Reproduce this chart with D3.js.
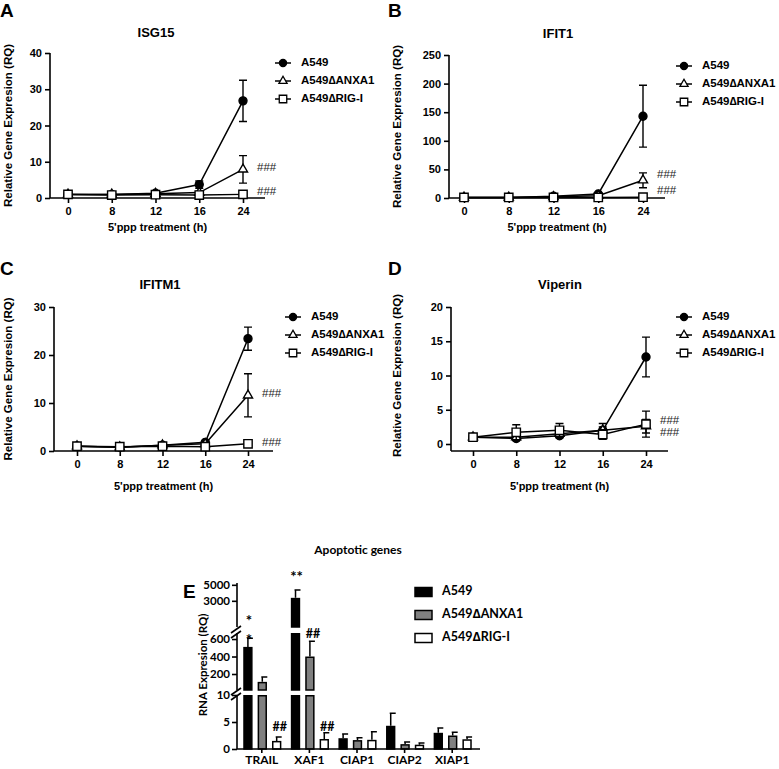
<!DOCTYPE html>
<head>
	<meta charset="utf-8">
	<script type="text/javascript" src="https://cdn.jsdelivr.net/npm/d3@7/dist/d3.min.js"></script>
	<style>
		body { margin: 0; background: #fff; }
	</style>
</head>
<body>
	<script type="text/javascript">

	// ---- data ----
	var times = ["0", "8", "12", "16", "24"];
	var cellLines = ["A549", "A549\u2206ANXA1", "A549\u2206RIG-I"];

	var isg15Mean = [[1, 1, 1.3, 3.7, 26.8], [1, 1, 1.2, 1.5, 7.9], [1, 0.8, 0.9, 0.8, 1.0]];
	var isg15Err = [[0.2, 0.2, 0.3, 1.0, 5.7], [0.2, 0.2, 0.2, 0.3, 3.8], [0.1, 0.1, 0.1, 0.1, 0.1]];
	var isg15Hash = [8.3, 1.6];

	var ifit1Mean = [[1, 1, 3, 7, 143], [1, 1, 2, 4, 31], [1, 1, 1, 1, 1.5]];
	var ifit1Err = [[0.3, 0.3, 1, 2, 54], [0.3, 0.3, 0.5, 1, 13], [0.2, 0.2, 0.2, 0.2, 0.3]];
	var ifit1Hash = [40, 12];

	var ifitm1Mean = [[1, 0.8, 1.2, 1.8, 23.4], [1, 0.8, 1.2, 1.5, 11.6], [1, 0.9, 1.0, 0.9, 1.5]];
	var ifitm1Err = [[0.1, 0.1, 0.2, 0.3, 2.4], [0.1, 0.1, 0.2, 0.2, 4.5], [0.1, 0.1, 0.1, 0.1, 0.2]];
	var ifitm1Hash = [11.9, 1.7];

	var viperinMean = [[1, 0.8, 1.2, 2.0, 12.7], [1, 1.0, 1.5, 2.0, 2.6], [1, 1.7, 2.0, 1.4, 2.9]];
	var viperinErr = [[0.1, 0.3, 0.3, 1.0, 2.9], [0.1, 0.3, 0.4, 0.5, 1.0], [0.1, 1.1, 1.0, 0.7, 1.9]];
	var viperinHash = [3.4, 1.6];

	var genes = ["TRAIL", "XAF1", "CIAP1", "CIAP2", "XIAP1"];
	var apoMean = [[510, 3300, 2.0, 4.3, 3.0], [110, 400, 1.65, 0.9, 2.5], [1.5, 1.85, 1.7, 0.8, 1.8]];
	var apoErr = [[100, 950, 0.8, 2.3, 0.9], [55, 175, 0.45, 0.4, 0.6], [0.7, 1.15, 1.5, 0.3, 0.4]];
	var apoTicksTop = [3000, 5000];
	var apoTicksMid = [200, 400, 600];
	var apoTicksLow = [0, 5, 10];

	var w = 779, h = 769;
	var font = "'Liberation Sans', Arial, sans-serif";
	var fontE = "Lato, 'Open Sans', sans-serif";

	var svg = d3.select("body").append("svg")
		.attr("width", w)
		.attr("height", h)
		.style("background", "#fff");

	var symbols = [d3.symbolCircle, d3.symbolTriangle, d3.symbolSquare];
	var symSize = [50, 36, 70];
	var symFill = ["#000", "#fff", "#fff"];

	function linePanel(c, means, errs, hashes) {
		var g = svg.append("g");

		var x = d3.scalePoint().domain(times).range([c.x0, c.x1]);
		var y = d3.scaleLinear().domain([0, c.yMax]).range([c.y0, c.yTop]);

		// panel letter + title
		g.append("text").text(c.letter)
			.attr("x", c.lx).attr("y", c.ly)
			.attr("font-family", font).attr("font-weight", "bold").attr("font-size", "19px");
		g.append("text").text(c.title)
			.attr("x", c.tx).attr("y", c.ty).attr("text-anchor", "middle")
			.attr("font-family", font).attr("font-weight", "bold").attr("font-size", "13px");

		// axes
		var yAxis = d3.axisLeft(y).tickValues(d3.range(0, c.yMax + 0.01, c.yStep)).tickSize(5).tickPadding(3);
		var ya = g.append("g").attr("transform", "translate(" + c.axisX + ",0)").call(yAxis);
		ya.select(".domain").attr("d", "M0," + c.xAxisY + "V" + c.yTop);
		var xAxis = d3.axisBottom(x).tickSize(5).tickPadding(4);
		var xa = g.append("g").attr("transform", "translate(0," + c.xAxisY + ")").call(xAxis);
		xa.select(".domain").attr("d", "M" + c.axisX + ",0H" + c.xEnd);
		[ya, xa].forEach(function(a) {
			a.selectAll("path, line").attr("stroke", "#000").attr("stroke-width", 1.6);
			a.selectAll("text").attr("font-family", font).attr("font-weight", "bold")
				.attr("font-size", "11px").attr("fill", "#000");
		});

		g.append("text").text("Relative Gene Expresion (RQ)")
			.attr("transform", "translate(" + c.ylabX + "," + ((c.y0 + c.yTop) / 2) + ") rotate(-90)")
			.attr("text-anchor", "middle").attr("dominant-baseline", "middle")
			.attr("font-family", font).attr("font-weight", "bold").attr("font-size", "11.5px");
		g.append("text").text("5'ppp treatment (h)")
			.attr("x", (c.axisX + c.xEnd) / 2).attr("y", c.xlabY).attr("text-anchor", "middle")
			.attr("font-family", font).attr("font-weight", "bold").attr("font-size", "11px");

		var line = d3.line().x(function(d, i) { return x(times[i]); }).y(function(d) { return y(d); });

		means.forEach(function(m, s) {
			var sg = g.append("g");
			// error bars
			m.forEach(function(v, i) {
				var e = errs[s][i];
				var cx = x(times[i]);
				sg.append("path")
					.attr("d", "M" + cx + "," + y(v - e) + "V" + y(v + e) +
						"M" + (cx - 4) + "," + y(v + e) + "H" + (cx + 4) +
						"M" + (cx - 4) + "," + y(v - e) + "H" + (cx + 4))
					.attr("stroke", "#000").attr("stroke-width", 1.4).attr("fill", "none");
			});
			sg.append("path").datum(m).attr("d", line)
				.attr("fill", "none").attr("stroke", "#000").attr("stroke-width", 1.5);
			sg.selectAll("path.pt").data(m).enter().append("path")
				.attr("class", "pt")
				.attr("d", d3.symbol().type(symbols[s]).size(symSize[s]))
				.attr("transform", function(d, i) { return "translate(" + x(times[i]) + "," + y(d) + ")"; })
				.attr("fill", symFill[s]).attr("stroke", "#000").attr("stroke-width", 1.4);
		});

		// significance marks
		g.selectAll("text.hash").data(hashes).enter().append("text")
			.attr("class", "hash")
			.text("###")
			.attr("x", x("24") + 14).attr("y", function(d) { return y(d); })
			.attr("dominant-baseline", "middle")
			.attr("font-family", font).attr("font-size", "11.5px").attr("fill", "#222");

		// legend
		cellLines.forEach(function(name, s) {
			var ly = c.legY + s * 18;
			g.append("line").attr("x1", c.legX - 8).attr("x2", c.legX + 8)
				.attr("y1", ly).attr("y2", ly).attr("stroke", "#000").attr("stroke-width", 1.5);
			g.append("path")
				.attr("d", d3.symbol().type(symbols[s]).size(symSize[s] * 0.8))
				.attr("transform", "translate(" + c.legX + "," + ly + ")")
				.attr("fill", symFill[s]).attr("stroke", "#000").attr("stroke-width", 1.3);
			g.append("text").text(name)
				.attr("x", c.legX + 18).attr("y", ly).attr("dominant-baseline", "middle")
				.attr("font-family", font).attr("font-weight", "bold").attr("font-size", "11.5px");
		});
	}

	linePanel({letter: "A", lx: 0, ly: 17, title: "ISG15", tx: 156, ty: 37,
		axisX: 50, x0: 68, x1: 243, xEnd: 265, y0: 198, yTop: 53, xAxisY: 198, yMax: 40, yStep: 10,
		ylabX: 9, xlabY: 231, legX: 283, legY: 63}, isg15Mean, isg15Err, isg15Hash);

	linePanel({letter: "B", lx: 388, ly: 17, title: "IFIT1", tx: 558, ty: 38,
		axisX: 449, x0: 464, x1: 643, xEnd: 665, y0: 198, yTop: 55, xAxisY: 198, yMax: 250, yStep: 50,
		ylabX: 398, xlabY: 231, legX: 684, legY: 66}, ifit1Mean, ifit1Err, ifit1Hash);

	linePanel({letter: "C", lx: 0, ly: 275, title: "IFITM1", tx: 160, ty: 289,
		axisX: 54, x0: 77, x1: 248, xEnd: 273, y0: 451, yTop: 307, xAxisY: 451, yMax: 30, yStep: 10,
		ylabX: 9, xlabY: 490, legX: 293, legY: 317}, ifitm1Mean, ifitm1Err, ifitm1Hash);

	linePanel({letter: "D", lx: 388, ly: 275, title: "Viperin", tx: 560, ty: 289,
		axisX: 451, x0: 473, x1: 646, xEnd: 668, y0: 444, yTop: 307, xAxisY: 451, yMax: 20, yStep: 5,
		ylabX: 398, xlabY: 490, legX: 684, legY: 317}, viperinMean, viperinErr, viperinHash);

	// ---- panel E: broken-axis bar chart ----
	var gE = svg.append("g");
	var axE = 237, baseE = 749;
	var segs = [
		{scale: d3.scaleLinear().domain([0, 10]).range([baseE, 695]), ticks: apoTicksLow},
		{scale: d3.scaleLinear().domain([17, 669]).range([690, 633]), ticks: apoTicksMid},
		{scale: d3.scaleLog().domain([1300, 5300]).range([627, 583]), ticks: apoTicksTop}
	];

	var xE = d3.scaleBand().domain(genes).range([238, 476]);
	var xIn = d3.scaleBand().domain(cellLines).range([xE.bandwidth() / 2 - 20, xE.bandwidth() / 2 + 21])
		.paddingInner(0.35).paddingOuter(0.1);
	var barFill = ["#000", "#808080", "#fff"];

	gE.append("text").text("E").attr("x", 183).attr("y", 598)
		.attr("font-family", font).attr("font-weight", "bold").attr("font-size", "19px");
	gE.append("text").text("Apoptotic genes").attr("x", 358).attr("y", 554).attr("text-anchor", "middle")
		.attr("font-family", fontE).attr("font-weight", "bold").attr("font-size", "12px");
	gE.append("text").text("RNA Expresion (RQ)")
		.attr("transform", "translate(204,665) rotate(-90)")
		.attr("text-anchor", "middle").attr("dominant-baseline", "middle")
		.attr("font-family", fontE).attr("font-weight", "bold").attr("font-size", "11.5px");

	function segOf(v) {
		for (var k = segs.length - 1; k >= 0; k--) {
			if (v >= segs[k].scale.domain()[0]) return segs[k];
		}
		return segs[0];
	}

	apoMean.forEach(function(m, s) {
		m.forEach(function(v, i) {
			var bx = xE(genes[i]) + xIn(cellLines[s]);
			var bw = xIn.bandwidth();
			segs.forEach(function(sg) {
				var d = sg.scale.domain();
				var lo = sg === segs[0] ? 0 : d[0];
				if (v <= lo) return;
				var top = Math.min(v, d[1]);
				var y0 = sg.scale(lo), y1 = sg.scale(top);
				gE.append("rect")
					.attr("x", bx + 0.75).attr("width", bw - 1.5)
					.attr("y", y1 + 0.75).attr("height", Math.max(0, y0 - y1 - 0.75))
					.attr("fill", barFill[s]).attr("stroke", "#000").attr("stroke-width", 1.5);
			});
			var sgv = segOf(v);
			var cx = bx + bw / 2;
			var yt = sgv.scale(v + apoErr[s][i]);
			gE.append("path")
				.attr("d", "M" + cx + "," + sgv.scale(v) + "V" + yt + "M" + (cx - 1) + "," + yt + "H" + (cx + 5))
				.attr("stroke", "#000").attr("stroke-width", 1.5).attr("fill", "none");
		});
	});

	segs.forEach(function(sg) {
		var a = gE.append("g").attr("transform", "translate(" + axE + ",0)")
			.call(d3.axisLeft(sg.scale).tickValues(sg.ticks).tickFormat(d3.format("d")).tickSize(5).tickPadding(2));
		var r = sg.scale.range();
		a.select(".domain").attr("d", "M0," + r[0] + "V" + r[1]);
		a.selectAll("path, line").attr("stroke", "#000").attr("stroke-width", 1.6);
		a.selectAll("text").attr("font-family", fontE).attr("font-weight", "bold")
			.attr("font-size", "11.5px").attr("fill", "#000");
	});

	// axis break marks
	[segs[0].scale.range()[1], segs[1].scale.range()[1]].forEach(function(yb) {
		[-3, 2].forEach(function(o) {
			gE.append("line")
				.attr("x1", axE - 6).attr("x2", axE + 4)
				.attr("y1", yb + o + 3).attr("y2", yb + o - 4)
				.attr("stroke", "#000").attr("stroke-width", 1.6);
		});
	});

	var xaE = gE.append("g").attr("transform", "translate(0," + baseE + ")")
		.call(d3.axisBottom(xE).tickSize(4).tickPadding(2));
	xaE.select(".domain").attr("d", "M" + axE + ",0H480");
	xaE.selectAll("path, line").attr("stroke", "#000").attr("stroke-width", 1.6);
	xaE.selectAll("text").attr("font-family", fontE).attr("font-weight", "bold")
		.attr("font-size", "12px").attr("fill", "#000");

	// significance marks on E
	var marksE = [
		{gene: "TRAIL", s: 0, txt: "*", v: 622, size: 15},
		{gene: "TRAIL", s: 0, txt: "*", v: 641, size: 15},
		{gene: "XAF1", s: 0, txt: "**", v: 578, size: 15},
		{gene: "XAF1", s: 1, txt: "##", v: 635, size: 12.5},
		{gene: "TRAIL", s: 2, txt: "##", v: 728, size: 12.5},
		{gene: "XAF1", s: 2, txt: "##", v: 728, size: 12.5}
	];
	gE.selectAll("text.mk").data(marksE).enter().append("text")
		.attr("class", "mk").text(function(d) { return d.txt; })
		.attr("x", function(d) { return xE(d.gene) + xIn(cellLines[d.s]) + xIn.bandwidth() / 2 + (d.s === 0 ? 1 : 3); })
		.attr("y", function(d) { return d.v; })
		.attr("text-anchor", "middle").attr("dominant-baseline", "middle")
		.attr("font-family", fontE).attr("font-weight", "bold").attr("fill", "#000")
		.attr("font-size", function(d) { return d.size + "px"; });

	cellLines.forEach(function(name, s) {
		var ly = 592 + s * 23;
		gE.append("rect").attr("x", 415).attr("y", ly - 4.5).attr("width", 17).attr("height", 9)
			.attr("fill", barFill[s]).attr("stroke", "#000").attr("stroke-width", 1.5);
		gE.append("text").text(name).attr("x", 442).attr("y", ly).attr("dominant-baseline", "middle")
			.attr("font-family", fontE).attr("font-weight", "bold").attr("font-size", "12.5px");
	});

	</script>
</body>
</html>
